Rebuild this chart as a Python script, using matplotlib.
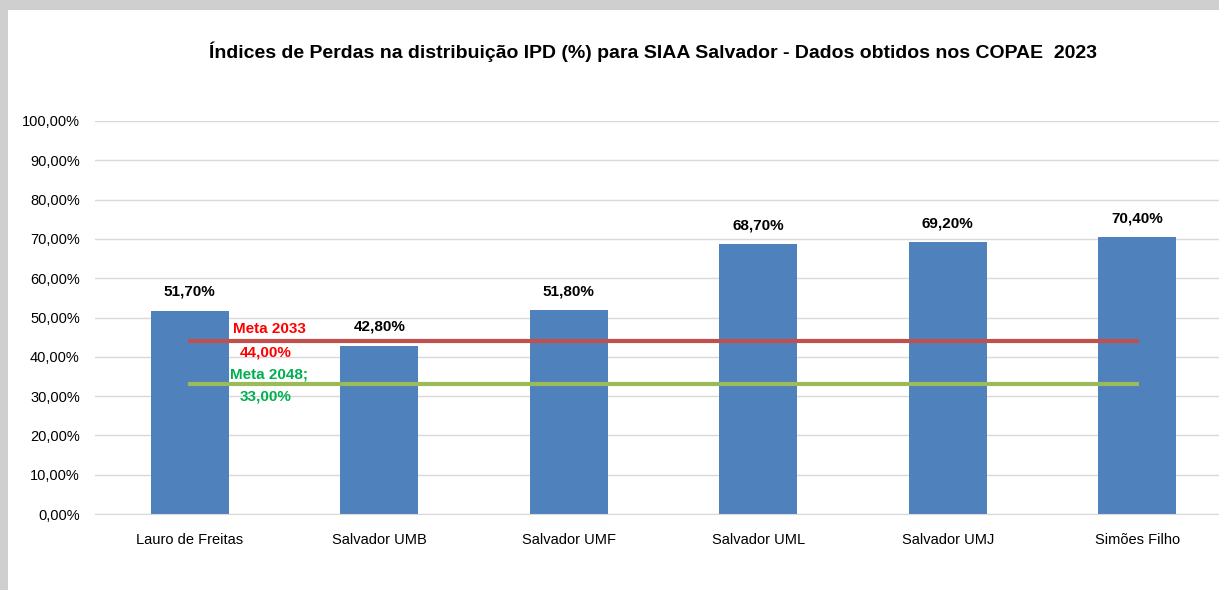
import matplotlib
matplotlib.use('Agg')
import matplotlib.pyplot as plt
from matplotlib.patches import Rectangle

plt.rcParams['font.family'] = ['Liberation Sans Narrow', 'Liberation Sans', 'DejaVu Sans']

categories = ['Lauro de Freitas', 'Salvador UMB', 'Salvador UMF',
              'Salvador UML', 'Salvador UMJ', 'Simões Filho']
ipd = [51.7, 42.8, 51.8, 68.7, 69.2, 70.4]
meta_2033 = 44.0
meta_2048 = 33.0
yticks = list(range(0, 101, 10))


def pct(v):
  return ('%.2f%%' % v).replace('.', ',')


fig = plt.figure(figsize=(12.19, 5.90), dpi=100)
fig.patch.set_facecolor('#cfcfcf')
# white chart frame inside the grey border
fig.patches.append(Rectangle((8 / 1219, 0), 1, 580 / 590, transform=fig.transFigure,
                             facecolor='white', edgecolor='none', zorder=-10))

ax = fig.add_axes([95 / 1219, 76 / 590, 1137 / 1219, 393 / 590])
ax.set_zorder(5)
ax.set_facecolor('none')

x = list(range(len(categories)))
ax.bar(x, ipd, width=0.41, color='#4f81bd', zorder=2)
for xi, v in zip(x, ipd):
  ax.text(xi, v + 4.8, pct(v), ha='center', va='center', fontsize=11,
          fontweight='bold', color='black')

ax.plot([x[0], x[-1]], [meta_2033] * 2, color='#c0504d', lw=3, zorder=3)
ax.plot([x[0], x[-1]], [meta_2048] * 2, color='#9bbb59', lw=3, zorder=3)

ax.text(0.42, 47.1, 'Meta 2033', ha='center', va='center', fontsize=11,
        fontweight='bold', color='#ff0000', zorder=4)
ax.text(0.40, 41.2, pct(meta_2033), ha='center', va='center', fontsize=11,
        fontweight='bold', color='#ff0000', zorder=4)
ax.text(0.42, 35.4, 'Meta 2048;', ha='center', va='center', fontsize=11,
        fontweight='bold', color='#00b050', zorder=4)
ax.text(0.40, 29.8, pct(meta_2048), ha='center', va='center', fontsize=11,
        fontweight='bold', color='#00b050', zorder=4)

ax.set_xlim(-0.5, len(categories) - 0.5)
ax.set_ylim(0, 100)
ax.set_yticks(yticks)
ax.set_yticklabels([pct(t) for t in yticks], fontsize=10.5)
ax.set_xticks(x)
ax.set_xticklabels(categories, fontsize=10.5)
ax.tick_params(axis='y', length=0, pad=11)
ax.tick_params(axis='x', length=0, pad=14)
ax.grid(axis='y', color='#d9d9d9', lw=1, zorder=0)
for s in ['top', 'right', 'left']:
  ax.spines[s].set_visible(False)
ax.spines['bottom'].set_color('#d9d9d9')

fig.text(653 / 1219, 1 - 52 / 590,
         'Índices de Perdas na distribuição IPD (%) para SIAA Salvador - Dados obtidos nos COPAE  2023',
         ha='center', va='center', fontsize=14, fontweight='bold')

fig.savefig('out.png', dpi=100, facecolor=fig.get_facecolor())
